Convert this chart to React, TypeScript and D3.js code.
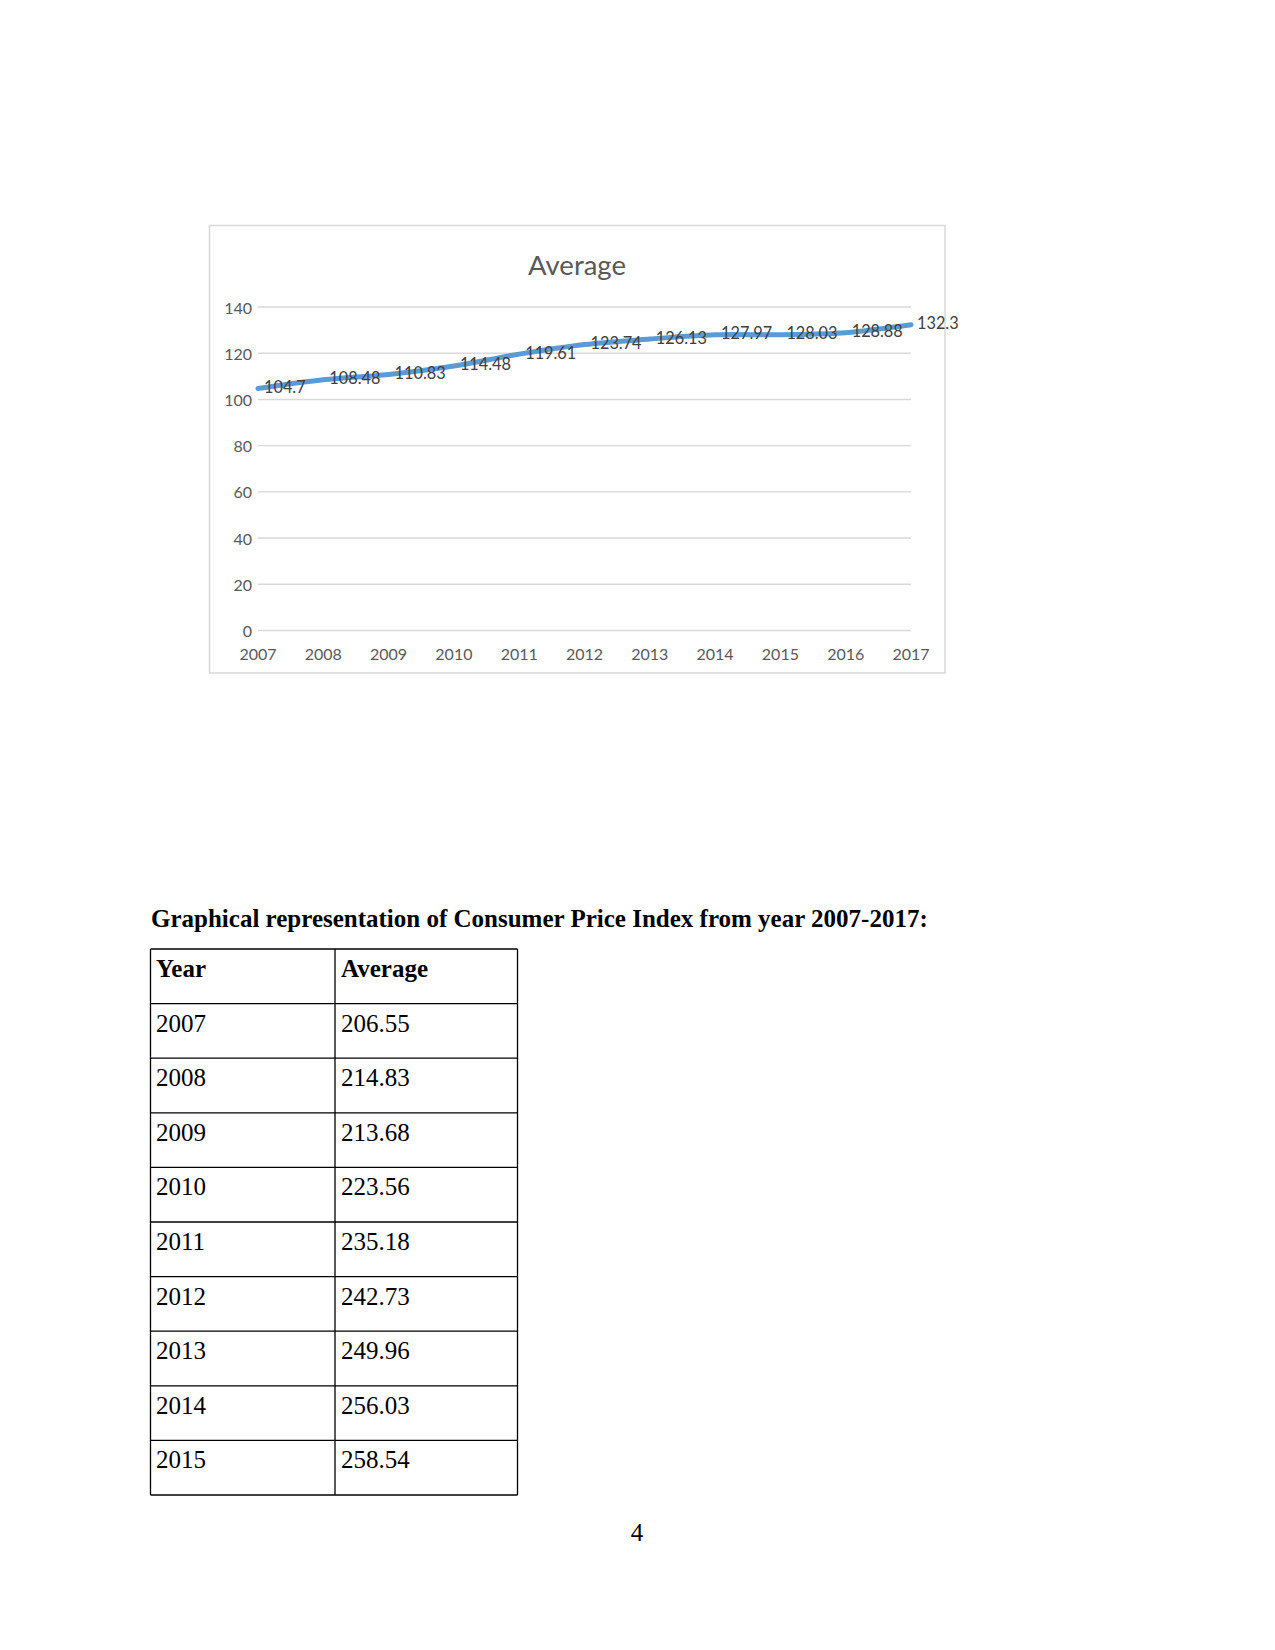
import React from "react";
import * as d3 from "d3";

const years = ["2007", "2008", "2009", "2010", "2011", "2012", "2013", "2014", "2015", "2016", "2017"];
const averages = [104.7, 108.48, 110.83, 114.48, 119.61, 123.74, 126.13, 127.97, 128.03, 128.88, 132.3];
const yTicks = [0, 20, 40, 60, 80, 100, 120, 140];
const chartTitle = "Average";

const tableHeading = "Graphical representation of Consumer Price Index from year 2007-2017:";
const tableHeaders = ["Year", "Average"];
const tableYears = ["2007", "2008", "2009", "2010", "2011", "2012", "2013", "2014", "2015"];
const tableValues = ["206.55", "214.83", "213.68", "223.56", "235.18", "242.73", "249.96", "256.03", "258.54"];
const pageNumber = "4";

export default function App() {
  const W = 1275;
  const H = 1650;
  const frame = { x: 209.5, y: 225.5, w: 735.5, h: 447.5 };
  const plot = { left: 258, right: 911, top: 307, bottom: 630.5 };

  const x = d3.scalePoint<string>().domain(years).range([plot.left, plot.right]);
  const y = d3.scaleLinear().domain([0, 140]).range([plot.bottom, plot.top]);

  const line = d3
    .line<number>()
    .x((_, i) => x(years[i]) as number)
    .y((d) => y(d))
    .curve(d3.curveCatmullRom.alpha(0.5));

  const chartFont = "Lato, Carlito, Calibri, 'Open Sans', sans-serif";
  const serif = "'Liberation Serif', 'Times New Roman', serif";

  // table geometry
  const tLeft = 150.5;
  const tMid = 335;
  const tRight = 517.5;
  const tTop = 949;
  const rowH = 54.6;
  const nRows = tableYears.length + 1;
  const rowYs = d3.range(nRows + 1).map((i) => tTop + i * rowH);

  return (
    <div style={{ position: "absolute", left: 0, top: 0 }}>
      <svg width={W} height={H} viewBox={`0 0 ${W} ${H}`} style={{ display: "block", background: "#fff" }}>
        <rect x={0} y={0} width={W} height={H} fill="#fff" />
        {/* chart frame */}
        <rect x={frame.x} y={frame.y} width={frame.w} height={frame.h} fill="#fff" stroke="#d9d9d9" strokeWidth={1.5} />
        <text x={577} y={264} textAnchor="middle" dominantBaseline="central" fontFamily={chartFont} fontSize={27.5} fill="#595959">
          {chartTitle}
        </text>
        {/* gridlines & y labels */}
        {yTicks.map((t) => (
          <g key={t}>
            <line x1={plot.left} x2={plot.right} y1={y(t)} y2={y(t)} stroke="#d9d9d9" strokeWidth={1.4} />
            <text x={252} y={y(t)} textAnchor="end" dominantBaseline="central" fontFamily={chartFont} fontSize={16} fill="#595959">
              {t}
            </text>
          </g>
        ))}
        {/* x labels */}
        {years.map((yr) => (
          <text key={yr} x={x(yr) as number} y={653} textAnchor="middle" dominantBaseline="central" fontFamily={chartFont} fontSize={16} fill="#595959">
            {yr}
          </text>
        ))}
        {/* line */}
        <path d={line(averages) || ""} fill="none" stroke="#5b9bd5" strokeWidth={5} strokeLinecap="round" strokeLinejoin="round" />
        {/* data labels */}
        {averages.map((v, i) => (
          <text key={i} x={(x(years[i]) as number) + 6} y={y(v) - 2} dominantBaseline="central" fontFamily={chartFont} fontSize={16.3} fill="#404040">
            {v}
          </text>
        ))}

        {/* heading */}
        <text x={151} y={927} fontFamily={serif} fontWeight="bold" fontSize={25} fill="#000">
          {tableHeading}
        </text>

        {/* table */}
        {rowYs.map((ry, i) => (
          <line key={"h" + i} x1={tLeft} x2={tRight} y1={ry} y2={ry} stroke="#000" strokeWidth={1.3} />
        ))}
        {[tLeft, tMid, tRight].map((cx, i) => (
          <line key={"v" + i} x1={cx} x2={cx} y1={tTop} y2={rowYs[nRows]} stroke="#000" strokeWidth={1.3} />
        ))}
        <text x={156} y={tTop + 28} fontFamily={serif} fontWeight="bold" fontSize={25} fill="#000">
          {tableHeaders[0]}
        </text>
        <text x={341} y={tTop + 28} fontFamily={serif} fontWeight="bold" fontSize={25} fill="#000">
          {tableHeaders[1]}
        </text>
        {tableYears.map((yr, i) => (
          <g key={yr}>
            <text x={156} y={rowYs[i + 1] + 28} fontFamily={serif} fontSize={25} fill="#000">
              {yr}
            </text>
            <text x={341} y={rowYs[i + 1] + 28} fontFamily={serif} fontSize={25} fill="#000">
              {tableValues[i]}
            </text>
          </g>
        ))}

        <text x={637} y={1541} textAnchor="middle" fontFamily={serif} fontSize={25} fill="#000">
          {pageNumber}
        </text>
      </svg>
    </div>
  );
}
